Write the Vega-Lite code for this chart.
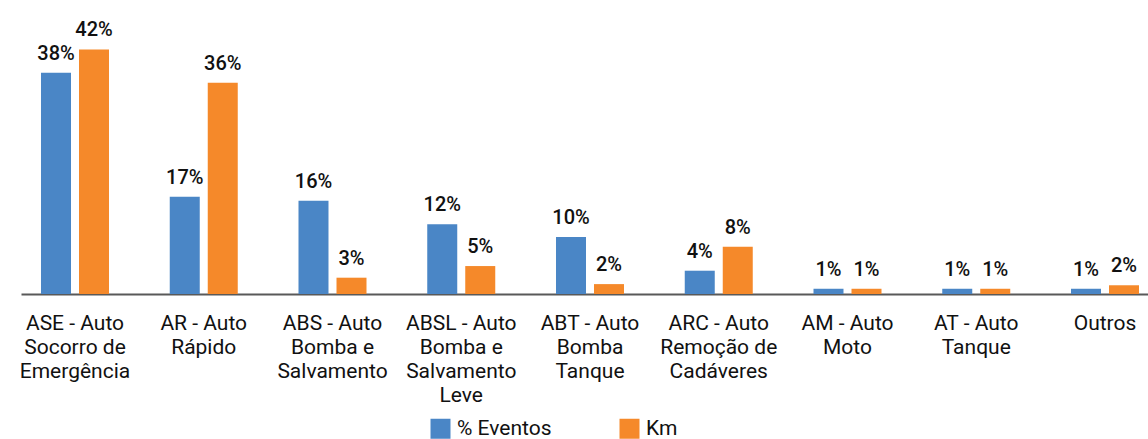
{
  "$schema": "https://vega.github.io/schema/vega-lite/v6.json",
  "autosize": {"type": "none"},
  "padding": {"left": 21, "top": 32, "right": 0, "bottom": 145},
  "width": 1138,
  "height": 262,
  "background": "white",
  "config": {
    "view": {"stroke": null},
    "font": "Roboto"
  },
  "data": {
    "values": [
      {"cat": "ASE - Auto Socorro de Emergência", "serie": "% Eventos", "v": 0.38},
      {"cat": "ASE - Auto Socorro de Emergência", "serie": "Km", "v": 0.42},
      {"cat": "AR - Auto Rápido", "serie": "% Eventos", "v": 0.167},
      {"cat": "AR - Auto Rápido", "serie": "Km", "v": 0.363},
      {"cat": "ABS - Auto Bomba e Salvamento", "serie": "% Eventos", "v": 0.16},
      {"cat": "ABS - Auto Bomba e Salvamento", "serie": "Km", "v": 0.028},
      {"cat": "ABSL - Auto Bomba e Salvamento Leve", "serie": "% Eventos", "v": 0.12},
      {"cat": "ABSL - Auto Bomba e Salvamento Leve", "serie": "Km", "v": 0.048},
      {"cat": "ABT - Auto Bomba Tanque", "serie": "% Eventos", "v": 0.098},
      {"cat": "ABT - Auto Bomba Tanque", "serie": "Km", "v": 0.017},
      {"cat": "ARC - Auto Remoção de Cadáveres", "serie": "% Eventos", "v": 0.04},
      {"cat": "ARC - Auto Remoção de Cadáveres", "serie": "Km", "v": 0.081},
      {"cat": "AM - Auto Moto", "serie": "% Eventos", "v": 0.009},
      {"cat": "AM - Auto Moto", "serie": "Km", "v": 0.009},
      {"cat": "AT - Auto Tanque", "serie": "% Eventos", "v": 0.009},
      {"cat": "AT - Auto Tanque", "serie": "Km", "v": 0.009},
      {"cat": "Outros", "serie": "% Eventos", "v": 0.009},
      {"cat": "Outros", "serie": "Km", "v": 0.015}
    ]
  },
  "encoding": {
    "x": {
      "field": "cat",
      "type": "nominal",
      "sort": null,
      "scale": {"paddingInner": 0.4718, "paddingOuter": 0.1553},
      "axis": {
        "title": null,
        "labelAngle": 0,
        "ticks": false,
        "domainColor": "#595959",
        "domainWidth": 2,
        "labelFont": "Roboto",
        "labelFontSize": 21,
        "labelColor": "#111111",
        "labelLineHeight": 24,
        "labelPadding": 18,
        "labelLimit": 0,
        "labelBaseline": "top",
        "labelExpr": "{'ASE - Auto Socorro de Emergência': ['ASE - Auto','Socorro de','Emergência'], 'AR - Auto Rápido': ['AR - Auto','Rápido'], 'ABS - Auto Bomba e Salvamento': ['ABS - Auto','Bomba e','Salvamento'], 'ABSL - Auto Bomba e Salvamento Leve': ['ABSL - Auto','Bomba e','Salvamento','Leve'], 'ABT - Auto Bomba Tanque': ['ABT - Auto','Bomba','Tanque'], 'ARC - Auto Remoção de Cadáveres': ['ARC - Auto','Remoção de','Cadáveres'], 'AM - Auto Moto': ['AM - Auto','Moto'], 'AT - Auto Tanque': ['AT - Auto','Tanque'], 'Outros': ['Outros']}[datum.label]"
      }
    },
    "xOffset": {
      "field": "serie",
      "type": "nominal",
      "scale": {"paddingInner": 0.2105, "paddingOuter": 0}
    },
    "y": {
      "field": "v",
      "type": "quantitative",
      "scale": {"domain": [0, 0.45], "nice": false, "zero": true},
      "axis": null
    }
  },
  "layer": [
    {
      "mark": {"type": "bar", "cornerRadius": 0},
      "encoding": {
        "color": {
          "field": "serie",
          "type": "nominal",
          "scale": {"domain": ["% Eventos", "Km"], "range": ["#4A86C6", "#F5892A"]},
          "legend": {
            "title": null,
            "orient": "none",
            "legendX": 409,
            "legendY": 386,
            "direction": "horizontal",
            "symbolType": "square",
            "symbolSize": 400,
            "symbolStrokeWidth": 0,
            "labelFont": "Roboto",
            "labelFontSize": 21,
            "labelColor": "#111111",
            "labelOffset": 6,
            "columnPadding": 67,
            "padding": 0
          }
        }
      }
    },
    {
      "mark": {"type": "text", "baseline": "alphabetic", "dy": -13, "fontSize": 20, "fontWeight": 500, "color": "#111111", "font": "Roboto"},
      "encoding": {
        "text": {"field": "v", "type": "quantitative", "format": ".0%"}
      }
    }
  ]
}
